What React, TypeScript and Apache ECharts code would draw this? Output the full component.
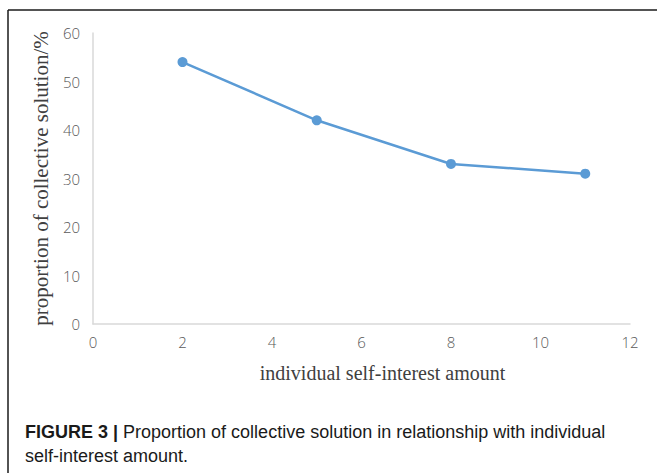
import React, { useEffect, useRef } from "react";
import * as echarts from "echarts";

const xValues = [2, 5, 8, 11];
const yValues = [54, 42, 33, 31];
const xAxisName = "individual self-interest amount";
const yAxisName = "proportion of collective solution/%";
const captionBold = "FIGURE 3 |";
const captionLine1 = " Proportion of collective solution in relationship with individual";
const captionLine2 = "self-interest amount.";

const tickFont = "Open Sans, DejaVu Sans Condensed, sans-serif";

export default function App() {
  const ref = useRef<HTMLDivElement>(null);
  useEffect(() => {
    if (!ref.current) return;
    const chart = echarts.init(ref.current, null, { renderer: "svg" });
    chart.setOption({
      animation: false,
      backgroundColor: "#ffffff",
      grid: { left: 93, right: 27, top: 33, bottom: 149, containLabel: false },
      xAxis: {
        type: "value",
        min: 0,
        max: 12,
        interval: 2,
        name: xAxisName,
        nameLocation: "middle",
        nameGap: 39,
        nameTextStyle: { fontFamily: "Liberation Serif", fontSize: 20, color: "#404040", padding: [0, 0, 0, 42] },
        axisLine: { show: true, lineStyle: { color: "#d9d9d9", width: 1.5 } },
        axisTick: { show: false },
        splitLine: { show: false },
        axisLabel: { color: "#595959", fontSize: 15, fontWeight: 300, margin: 10, fontFamily: tickFont },
      },
      yAxis: {
        type: "value",
        min: 0,
        max: 60,
        interval: 10,
        name: yAxisName,
        nameLocation: "middle",
        nameGap: 41,
        nameRotate: 90,
        nameTextStyle: { fontFamily: "Liberation Serif", fontSize: 21, color: "#404040", padding: [0, 0, 0, 0] },
        axisLine: { show: true, lineStyle: { color: "#d9d9d9", width: 1.5 } },
        axisTick: { show: false },
        splitLine: { show: false },
        axisLabel: { color: "#595959", fontSize: 15, fontWeight: 300, margin: 13, fontFamily: tickFont },
      },
      series: [
        {
          type: "line",
          data: xValues.map((x, i) => [x, yValues[i]]),
          symbol: "circle",
          symbolSize: 10,
          lineStyle: { color: "#5b9bd5", width: 2.5 },
          itemStyle: { color: "#5b9bd5" },
        },
      ],
      graphic: [
        { type: "line", shape: { x1: 8, y1: 10, x2: 657, y2: 10 }, style: { stroke: "#1a1a1a", lineWidth: 1.5 } },
        { type: "line", shape: { x1: 8, y1: 10, x2: 8, y2: 473 }, style: { stroke: "#1a1a1a", lineWidth: 1.5 } },
        {
          type: "text",
          left: 25,
          top: 423,
          style: {
            text: "{b|" + captionBold + "}{n|" + captionLine1 + "}",
            rich: {
              b: { fontFamily: "Liberation Sans, Arial, sans-serif", fontSize: 18, fontWeight: "bold", fill: "#1a1a1a" },
              n: { fontFamily: "Liberation Sans, Arial, sans-serif", fontSize: 18, fill: "#1a1a1a" },
            },
          },
        },
        {
          type: "text",
          left: 25,
          top: 447,
          style: {
            text: captionLine2,
            font: "18px Liberation Sans, Arial, sans-serif",
            fill: "#1a1a1a",
          },
        },
      ],
    });
    return () => chart.dispose();
  }, []);
  return <div ref={ref} style={{ position: "fixed", left: 0, top: 0, width: 657, height: 473 }} />;
}
